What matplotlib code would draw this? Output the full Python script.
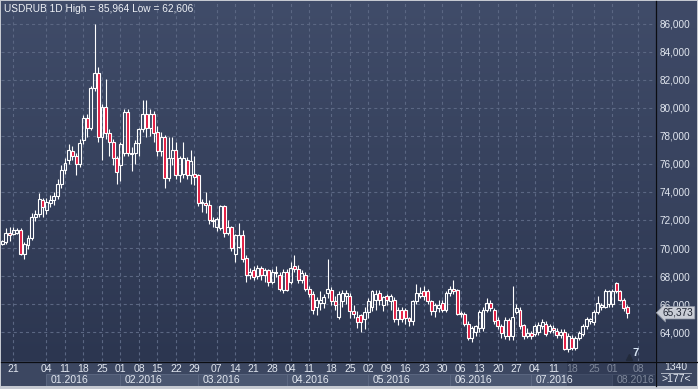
import numpy as np
import matplotlib

matplotlib.use("Agg")
import matplotlib.pyplot as plt
from matplotlib.colors import LinearSegmentedColormap
from matplotlib.lines import Line2D
from matplotlib.patches import Rectangle

plt.rcParams["font.family"] = ["Liberation Sans", "DejaVu Sans"]
plt.rcParams["lines.scale_dashes"] = False

# daily USDRUB candles (thousands shown with 3 decimals, comma separator)
opens = [
    70.3, 70.4, 71.1, 71.0, 71.1, 71.3, 69.6, 70.2, 70.7, 72.2,
    72.4, 73.4, 72.7, 73.2, 73.4, 73.7, 74.6, 75.6, 76.3, 76.9,
    76.6, 76.0, 77.7, 79.3, 78.6, 81.4, 82.5, 77.9, 80.1, 78.2,
    77.6, 76.4, 75.9, 76.8, 79.7, 76.8, 76.8, 77.5, 78.5, 79.6,
    78.6, 79.6, 78.3, 76.9, 77.9, 75.0, 76.4, 77.0, 75.2, 75.3,
    76.3, 75.2, 75.3, 75.2, 73.3, 73.2, 73.1, 72.0, 71.5, 71.4,
    73.0, 71.1, 71.5, 69.6, 70.1, 70.9, 69.3, 68.1, 68.4, 68.0,
    68.6, 68.1, 68.4, 67.6, 68.3, 68.1, 67.0, 68.3, 67.6, 68.7,
    68.5, 67.7, 68.1, 67.1, 66.7, 65.8, 66.1, 66.1, 66.8, 67.0,
    66.2, 65.1, 66.2, 66.6, 66.6, 65.5, 65.1, 65.2, 64.9, 65.4,
    65.8, 66.3, 66.8, 65.9, 66.6, 66.2, 66.3, 64.9, 65.6, 65.6,
    65.0, 64.8, 66.2, 66.6, 66.9, 66.9, 66.2, 65.5, 65.7, 66.05,
    65.6, 66.8, 67.1, 67.0, 65.35, 65.3, 64.6, 63.6, 64.0, 64.3,
    64.3, 65.6, 66.05, 65.6, 64.85, 64.4, 63.7, 64.85, 63.7, 65.45,
    65.6, 64.5, 63.7, 63.9, 63.85, 64.0, 64.4, 64.6, 64.1, 64.3,
    64.1, 63.8, 64.0, 62.8, 63.6, 62.85, 63.55, 63.85, 64.4, 64.8,
    64.7, 65.45, 65.8, 65.8, 66.0, 66.0, 67.5, 66.9, 66.3, 65.8,
]
highs = [
    70.6, 71.4, 71.5, 71.5, 71.4, 71.4, 70.4, 70.9, 72.5, 72.7,
    73.9, 73.6, 73.6, 73.8, 74.0, 74.9, 75.9, 76.4, 77.4, 77.3,
    76.8, 77.8, 79.5, 79.6, 81.6, 85.964, 82.9, 80.3, 82.1, 78.5,
    77.8, 76.6, 77.6, 79.9, 79.9, 77.2, 77.7, 78.6, 80.6, 80.6,
    79.9, 79.8, 78.7, 78.3, 78.1, 77.9, 77.9, 77.6, 76.6, 77.6,
    76.5, 77.0, 76.6, 75.3, 73.5, 74.0, 73.4, 72.2, 72.2, 73.1,
    73.1, 72.0, 71.6, 71.0, 71.8, 71.3, 69.5, 68.6, 68.7, 68.8,
    68.7, 68.6, 68.5, 68.5, 68.7, 68.3, 68.5, 68.5, 69.0, 69.5,
    68.8, 68.4, 68.3, 67.3, 66.9, 66.5, 66.9, 66.7, 69.2, 67.2,
    66.6, 66.9, 67.0, 67.0, 66.8, 65.9, 65.5, 65.3, 65.8, 66.4,
    67.0, 67.0, 67.0, 66.6, 66.7, 66.7, 66.5, 65.8, 65.8, 65.7,
    65.1, 66.3, 67.4, 67.2, 67.3, 67.1, 66.3, 66.1, 66.3, 66.3,
    66.9, 67.3, 67.7, 67.1, 65.5, 65.4, 64.8, 64.4, 64.5, 65.6,
    65.8, 66.4, 66.3, 65.7, 65.1, 64.6, 65.1, 65.0, 67.3, 66.0,
    65.8, 64.6, 64.3, 64.1, 64.6, 64.7, 64.9, 64.8, 64.6, 64.5,
    64.3, 64.2, 64.2, 63.9, 63.8, 63.7, 64.1, 64.6, 65.1, 65.0,
    65.6, 66.6, 66.1, 67.1, 67.0, 67.1, 67.6, 67.0, 66.4, 65.9,
]
lows = [
    70.2, 70.3, 70.5, 70.9, 71.0, 69.5, 69.2, 69.9, 70.6, 71.9,
    72.2, 72.2, 72.4, 72.9, 73.1, 73.5, 74.3, 75.3, 76.0, 76.3,
    75.2, 75.8, 77.4, 77.9, 78.4, 81.2, 77.6, 76.3, 77.8, 76.6,
    75.9, 74.6, 74.8, 76.6, 76.6, 75.5, 76.0, 76.6, 78.3, 77.9,
    78.0, 77.6, 76.6, 76.6, 74.3, 74.8, 75.9, 74.9, 74.7, 75.0,
    74.9, 74.6, 74.5, 73.0, 72.6, 72.5, 71.7, 71.5, 71.2, 71.3,
    70.8, 70.9, 69.8, 69.0, 70.0, 69.0, 67.6, 67.8, 67.7, 67.8,
    67.7, 67.6, 67.3, 67.4, 67.9, 66.9, 66.8, 66.9, 67.4, 68.3,
    67.5, 67.5, 66.9, 66.5, 65.3, 65.2, 65.6, 65.7, 66.4, 65.9,
    65.6, 64.9, 65.8, 66.0, 65.0, 65.0, 64.3, 64.0, 64.2, 65.0,
    65.5, 65.6, 65.9, 65.5, 65.9, 65.6, 64.7, 64.5, 64.7, 64.6,
    64.4, 64.5, 66.0, 66.4, 66.3, 66.0, 65.2, 65.1, 65.4, 65.4,
    65.4, 66.6, 66.7, 65.2, 65.1, 64.4, 63.4, 63.3, 63.7, 64.0,
    64.1, 65.4, 65.5, 64.6, 64.2, 63.6, 63.5, 63.4, 63.4, 65.3,
    64.2, 63.5, 63.6, 63.5, 63.7, 63.8, 64.2, 63.7, 63.9, 63.9,
    63.6, 63.6, 62.7, 62.606, 62.7, 62.7, 63.4, 63.7, 64.2, 64.6,
    64.5, 65.3, 65.6, 65.7, 65.8, 65.8, 66.8, 66.2, 65.5, 65.0,
]
closes = [
    70.5, 71.1, 70.9, 71.3, 71.3, 69.6, 70.3, 70.7, 72.2, 72.4,
    73.5, 72.9, 73.3, 73.4, 73.7, 74.6, 75.6, 76.1, 77.0, 76.6,
    76.0, 77.5, 79.3, 78.6, 81.4, 82.5, 77.9, 80.1, 78.2, 77.6,
    76.4, 75.4, 77.4, 79.7, 76.8, 76.7, 77.5, 78.5, 79.6, 78.6,
    79.6, 78.2, 76.9, 77.9, 75.0, 76.4, 77.0, 75.2, 76.4, 76.4,
    75.2, 76.2, 75.1, 73.2, 73.2, 73.1, 72.0, 71.9, 72.1, 73.0,
    71.1, 71.5, 70.0, 70.9, 70.9, 69.2, 68.1, 68.3, 67.9, 68.6,
    68.1, 68.4, 67.6, 68.3, 68.2, 67.1, 68.3, 67.0, 68.6, 68.5,
    67.7, 68.2, 67.1, 66.7, 65.6, 66.3, 66.3, 66.5, 67.1, 66.2,
    65.9, 66.7, 66.8, 66.8, 65.5, 65.3, 64.7, 64.7, 65.4, 66.2,
    66.9, 66.7, 66.3, 66.5, 66.3, 66.6, 64.9, 65.6, 64.9, 65.0,
    64.8, 66.2, 66.8, 66.8, 66.6, 66.2, 65.5, 65.9, 65.9, 65.6,
    66.8, 67.1, 66.9, 65.3, 65.3, 64.6, 63.6, 64.3, 64.4, 65.45,
    65.6, 66.1, 65.7, 64.8, 64.4, 63.9, 64.85, 63.7, 65.1, 65.7,
    64.4, 63.7, 63.9, 63.7, 64.4, 64.5, 64.7, 63.85, 64.4, 64.15,
    63.8, 64.0, 62.8, 63.7, 62.85, 63.55, 63.9, 64.4, 64.9, 64.9,
    65.45, 66.05, 65.9, 66.9, 66.9, 66.95, 66.9, 66.3, 65.7, 65.373,
]

# weekly (Monday) tick labels and their bar positions
tick_pos = [3, 12, 17, 22, 27, 32, 37, 42, 47, 52, 58, 63, 68, 73, 78, 83, 89,
            94, 99, 104, 109, 114, 119, 124, 129, 134, 139, 144, 149, 154, 160,
            165, 172]
tick_labels = ["21", "04", "11", "18", "25", "01", "08", "15", "22", "29", "07",
               "14", "21", "28", "04", "11", "18", "25", "02", "09", "16", "23",
               "30", "06", "13", "20", "27", "04", "11", "18", "25", "01", "08"]
month_start = [12, 32, 53, 77, 99, 121, 143, 165]
month_labels = ["01.2016", "02.2016", "03.2016", "04.2016", "05.2016",
                "06.2016", "07.2016", "08.2016"]
price_ticks = [64, 66, 68, 70, 72, 74, 76, 78, 80, 82, 84, 86]
total_bars = 1340
visible_bars = 177
shift_bars = 7

W, H = 698, 389
fig = plt.figure(figsize=(W / 100, H / 100), dpi=100)
fig.patch.set_facecolor("#c5c9d1")


def px_box(x0, y0, x1, y1):
    # pixel box (top-left origin) -> figure fraction rect
    return [x0 / W, 1 - y1 / H, (x1 - x0) / W, (y1 - y0) / H]


ax = fig.add_axes(px_box(1, 1, 655, 361))
ax_r = fig.add_axes(px_box(655, 1, 697, 361))
ax_b = fig.add_axes(px_box(1, 361, 655, 386))
ax_c = fig.add_axes(px_box(655, 361, 697, 386))
ax.set_zorder(3)
for a in (ax_r, ax_b, ax_c):
    a.set_zorder(1)
    a.set_axis_off()

xlim = (-0.3, visible_bars - 0.5)
ylim = (61.93, 87.64)
ax.set_xlim(*xlim)
ax.set_ylim(*ylim)

bg = LinearSegmentedColormap.from_list("bg", ["#2c3650", "#404c69"])
grad = np.linspace(0, 1, 256)[:, None]
ax.imshow(grad, extent=[xlim[0], xlim[1], ylim[0], ylim[1]], origin="lower",
          aspect="auto", cmap=bg, zorder=0)
ax_r.imshow(grad, extent=[0, 1, 0, 1], origin="lower", aspect="auto",
            cmap=LinearSegmentedColormap.from_list("bgr", ["#323d57", "#3f4a67"]))
ax_r.set_xlim(0, 1)
ax_r.set_ylim(0, 1)

for spine in ax.spines.values():
    spine.set_visible(False)

# candles
body_w = 0.8
for i, (o, h, l, c) in enumerate(zip(opens, highs, lows, closes)):
    lo, hi = min(o, c), max(o, c)
    ax.vlines(i, l, lo, color="white", lw=0.8, zorder=4)
    ax.vlines(i, hi, h, color="white", lw=0.8, zorder=4)
    face = "#e3173d" if c < o else "none"
    ax.add_patch(Rectangle((i - body_w / 2, lo), body_w, max(hi - lo, 0.02),
                           facecolor=face, edgecolor="white", lw=0.8, zorder=5))

# grid and ticks
ax.set_yticks(price_ticks)
ax.set_yticklabels([f"{v:.3f}".replace(".", ",") for v in price_ticks])
ax.yaxis.tick_right()
ax.set_xticks(tick_pos)
ax.set_xticklabels(tick_labels)
ax.tick_params(axis="y", length=0, pad=3, labelsize=7.2, labelcolor="#e2e7f0")
ax.tick_params(axis="x", length=0, pad=2.5, labelsize=7.5, labelcolor="#e2e7f0")
ax.grid(True, color="#5b6783", lw=0.8, linestyle=(0, (2.2, 2.2)), zorder=1)
dim_from = 152.7
for pos, lab in zip(tick_pos, ax.get_xticklabels()):
    if pos > dim_from:
        lab.set_color("#7f889b")

ax.text(0.005, 0.993, "USDRUB 1D High = {} Low = {}".format(
    f"{max(highs):.3f}".replace(".", ","), f"{min(lows):.3f}".replace(".", ",")),
    transform=ax.transAxes, va="top", ha="left", fontsize=7.3, color="#edf0f5",
    zorder=10)

# last price tag (covers the 66,000 label as in the terminal)
last = closes[-1]
ax.text(1.012, last, f"{last:.3f}".replace(".", ","),
        transform=ax.get_yaxis_transform(), ha="left", va="center", fontsize=7.2,
        color="#1c2230", clip_on=False, zorder=10,
        bbox=dict(boxstyle="larrow,pad=0.12", fc="#c9cdd6", ec="#8e95a3", lw=0.5))

# right shift marker
ax.plot([len(closes) - 1 + 0.6], [62.2], marker="^", ms=5, color="#222a3b",
        zorder=6, clip_on=False)
ax.text(len(closes) - 1 + 1.3, 62.15, str(shift_bars), fontsize=8,
        fontweight="bold", color="#d8e6f5", ha="left", va="bottom", zorder=6)

# bottom strip with month boxes
ax_b.set_xlim(*xlim)
ax_b.set_ylim(0, 1)
ax_b.add_patch(Rectangle((xlim[0], 0), xlim[1] - xlim[0], 1, fc="#3c4761",
                         ec="none"))
ends = month_start[1:] + [xlim[1]]
for s, e, lab in zip(month_start, ends, month_labels):
    dim = s > dim_from
    ax_b.add_patch(Rectangle((s, 0.0), e - s, 0.5,
                             fc="#3a455e" if dim else "#4b5771",
                             ec="#5e6a84", lw=0.6))
    ax_b.text(s + 1.2, 0.24, lab, fontsize=7.5, va="center", ha="left",
              color="#7f889b" if dim else "#e2e7f0")
ax_b.add_patch(Rectangle((dim_from, 0), xlim[1] - dim_from, 1, fc="#26304a",
                         alpha=0.45, ec="none"))

# corner box
ax_c.set_xlim(0, 1)
ax_c.set_ylim(0, 1)
ax_c.add_patch(Rectangle((0, 0), 1, 1, fc="#3c4761", ec="none"))
ax_c.text(0.5, 0.77, str(total_bars), ha="center", va="center", fontsize=7.5,
          color="#e2e7f0")
ax_c.plot([0.15, 0.85], [0.52, 0.52], color="#aeb5c3", lw=0.7)
ax_c.text(0.5, 0.29, f">{visible_bars}<", ha="center", va="center",
          fontsize=7.5, color="#e2e7f0")

# separators
fig.add_artist(Line2D([655.5 / W] * 2, [3 / H, 1 - 1 / H],
                      transform=fig.transFigure, color="#0b0d12", lw=0.9))
fig.add_artist(Line2D([1 / W, 697 / W], [1 - 361.5 / H] * 2,
                      transform=fig.transFigure, color="#0b0d12", lw=0.9))

fig.savefig("out.png", dpi=100, facecolor=fig.get_facecolor())
